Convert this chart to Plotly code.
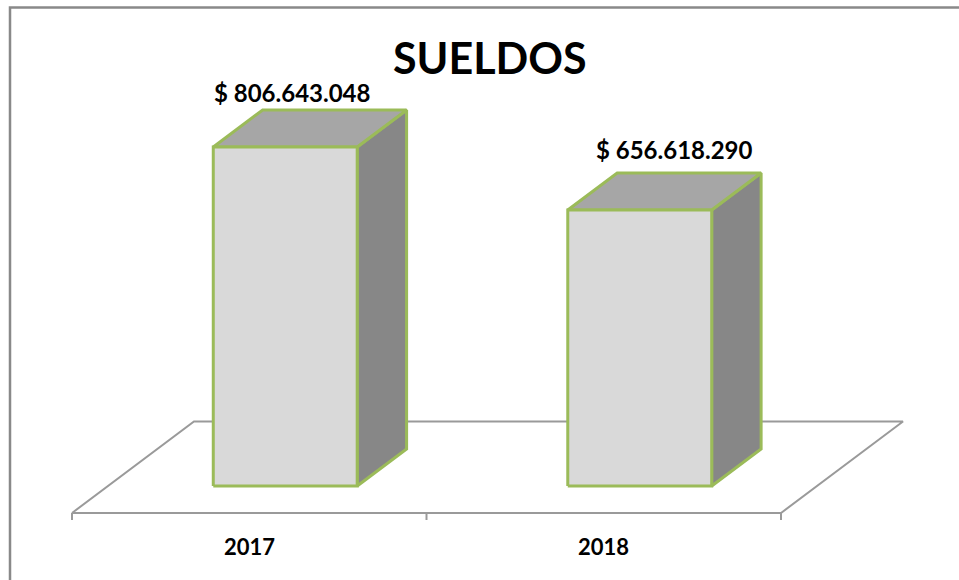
import plotly.graph_objects as go

# ---------------- data ----------------
CATEGORIES = ["2017", "2018"]
SUELDOS = [806643048, 656618290]
TITLE = "SUELDOS"

# ---------------- styling / geometry ----------------
X_RANGE = [-0.7031, 2.0021]
Y_RANGE = [-223.67e6, 1156.44e6]
PX_Y = (Y_RANGE[1] - Y_RANGE[0]) / 580.0      # value units per pixel

FLOOR_DX = 0.3441                  # floor depth in category units
FLOOR_DY = 91.5 * PX_Y             # floor depth in value units
F_FRONT, F_BACK = 0.295, 0.70      # bar front/back plane as fraction of floor depth
FLOOR_FRONT_Y = -F_FRONT * FLOOR_DY
BAR_WIDTH = 0.406
TICK_LEN = 7 * PX_Y

C_FRONT, C_TOP, C_SIDE = "#D9D9D9", "#A6A6A6", "#878787"
C_EDGE = "#9BBB59"
C_FLOOR = "#9A9A9A"
FONT = "Lato"
LABEL_DX = [-18, 10]
LABEL_DY = [17, 24]


def fmt(v):
    return "$ " + f"{v:,}".replace(",", ".")


fig = go.Figure()

# floor
n = len(CATEGORIES)
x0, x1 = -0.5, n - 0.5
fy0, fy1 = FLOOR_FRONT_Y, FLOOR_FRONT_Y + FLOOR_DY
fig.add_trace(go.Scatter(
    x=[x0, x1, x1 + FLOOR_DX, x0 + FLOOR_DX, x0],
    y=[fy0, fy0, fy1, fy1, fy0],
    mode="lines", line=dict(color=C_FLOOR, width=2), hoverinfo="skip"))

# ticks at category boundaries
tx, ty = [], []
for k in range(n + 1):
    tx += [k - 0.5, k - 0.5, None]
    ty += [fy0, fy0 - TICK_LEN, None]
fig.add_trace(go.Scatter(x=tx, y=ty, mode="lines",
                         line=dict(color=C_FLOOR, width=2), hoverinfo="skip"))

# 3D bars
ddx = (F_BACK - F_FRONT) * FLOOR_DX
ddy = (F_BACK - F_FRONT) * FLOOR_DY
for i, (cat, v) in enumerate(zip(CATEGORIES, SUELDOS)):
    cx = i + F_FRONT * FLOOR_DX
    xl, xr = cx - BAR_WIDTH / 2, cx + BAR_WIDTH / 2
    edge = dict(color=C_EDGE, width=3)
    # side
    fig.add_trace(go.Scatter(
        x=[xr, xr + ddx, xr + ddx, xr, xr],
        y=[0, ddy, v + ddy, v, 0],
        fill="toself", fillcolor=C_SIDE, mode="lines", line=edge, hoverinfo="skip"))
    # top
    fig.add_trace(go.Scatter(
        x=[xl, xr, xr + ddx, xl + ddx, xl],
        y=[v, v, v + ddy, v + ddy, v],
        fill="toself", fillcolor=C_TOP, mode="lines", line=edge, hoverinfo="skip"))
    # front
    fig.add_trace(go.Scatter(
        x=[xl, xr, xr, xl, xl],
        y=[0, 0, v, v, 0],
        fill="toself", fillcolor=C_FRONT, mode="lines", line=edge,
        name=cat, hoverinfo="text", text=fmt(v)))
    # value label
    fig.add_annotation(x=cx + ddx / 2, y=v + ddy, text=fmt(v), showarrow=False,
                       xanchor="center", yanchor="middle",
                       xshift=LABEL_DX[i], yshift=LABEL_DY[i],
                       font=dict(family=FONT, size=24, color="#000000", weight="bold"))
    # category label
    fig.add_annotation(x=i, y=FLOOR_FRONT_Y, text=cat, showarrow=False,
                       xanchor="center", yanchor="middle", yshift=-34,
                       font=dict(family=FONT, size=22, color="#000000", weight="bold"))

# title
fig.add_annotation(x=490 / 959, y=1 - 58 / 580, xref="paper", yref="paper",
                   text=TITLE, showarrow=False, xanchor="center", yanchor="middle",
                   font=dict(family=FONT, size=43, color="#000000", weight="bold"))

# outer frame (left and top visible)
fig.add_shape(type="rect", xref="paper", yref="paper",
              x0=10 / 959, x1=1.2, y0=-0.2, y1=1 - 7.5 / 580,
              line=dict(color="#898989", width=2.5), fillcolor="rgba(0,0,0,0)")

fig.update_layout(
    width=959, height=580,
    margin=dict(l=0, r=0, t=0, b=0),
    paper_bgcolor="white", plot_bgcolor="white",
    showlegend=False,
    xaxis=dict(range=X_RANGE, visible=False, fixedrange=True),
    yaxis=dict(range=Y_RANGE, visible=False, fixedrange=True),
)

fig.write_html(
    "out.html",
    config={"displayModeBar": False},
    post_script="document.body.style.margin='0px';document.body.style.overflow='hidden';",
)
